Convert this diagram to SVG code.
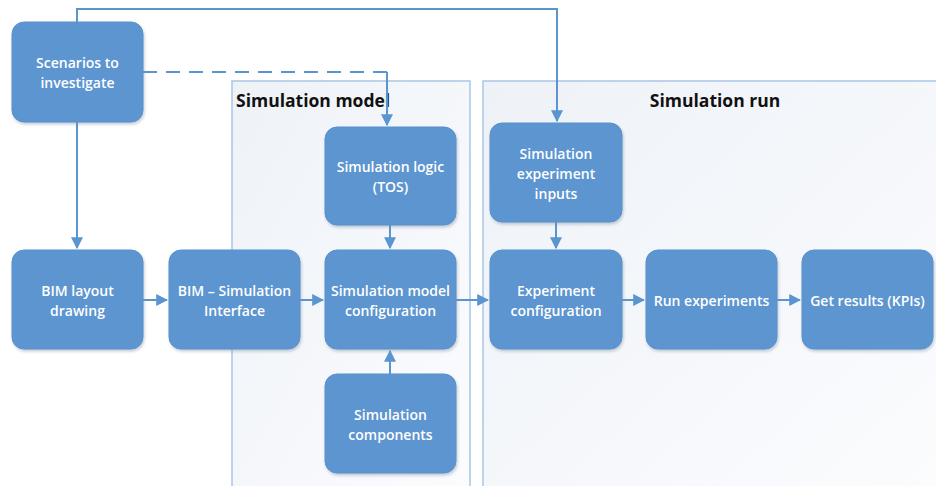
<svg xmlns="http://www.w3.org/2000/svg" width="936" height="486" viewBox="0 0 936 486">
  <defs>
    <linearGradient id="panelFill" x1="0" y1="0" x2="1" y2="1">
      <stop offset="0" stop-color="#eef2f7"/>
      <stop offset="1" stop-color="#fbfcfe"/>
    </linearGradient>
    <filter id="shadow" x="-10%" y="-10%" width="125%" height="130%">
      <feDropShadow dx="1" dy="2" stdDeviation="1.5" flood-color="#7a8ea6" flood-opacity="0.45"/>
    </filter>
    <marker id="arrow" viewBox="0 0 10 10" refX="9" refY="5" markerWidth="6" markerHeight="6" orient="auto-start-reverse" markerUnits="strokeWidth">
      <path d="M0,0 L10,5 L0,10 z" fill="#5b95d0"/>
    </marker>
  </defs>
  <style>
    .panel { fill: url(#panelFill); stroke: #a9c6e6; stroke-width: 1.5; }
    .panel-title { font-family: "Open Sans", "Liberation Sans", sans-serif; font-weight: 700; font-size: 17.5px; fill: #111111; }
    .box { fill: #5b95d0; stroke: #5a92cc; stroke-width: 1; filter: url(#shadow); }
    .label { font-family: "Open Sans", "Liberation Sans", sans-serif; font-weight: 600; font-size: 14px; fill: #ffffff; text-anchor: middle; dominant-baseline: central; }
    .conn { fill: none; stroke: #5b95d0; stroke-width: 2; }
    .dashed { stroke-dasharray: 14 9; }
  </style>

  <rect width="936" height="486" fill="#ffffff"/>

  <!-- Panels -->
  <g id="panel-model">
    <rect class="panel" x="232" y="81" width="238" height="410"/>
    <text class="panel-title" x="236" y="107">Simulation model</text>
  </g>
  <g id="panel-run">
    <rect class="panel" x="483" y="81" width="460" height="410"/>
    <text class="panel-title" x="715" y="107" text-anchor="middle">Simulation run</text>
  </g>

  <!-- Connectors -->
  <g id="connectors">
    <path class="conn" d="M77,22 V9 H557 V121" marker-end="url(#arrow)"/>
    <path class="conn dashed" d="M143,72 H387"/>
    <path class="conn" d="M387,72 V125" marker-end="url(#arrow)"/>
    <path class="conn" d="M77,122 V248" marker-end="url(#arrow)"/>
    <path class="conn" d="M143,300 H167" marker-end="url(#arrow)"/>
    <path class="conn" d="M300,300 H323" marker-end="url(#arrow)"/>
    <path class="conn" d="M390,225 V248" marker-end="url(#arrow)"/>
    <path class="conn" d="M390,374 V351" marker-end="url(#arrow)"/>
    <path class="conn" d="M456,300 H488" marker-end="url(#arrow)"/>
    <path class="conn" d="M556,222 V248" marker-end="url(#arrow)"/>
    <path class="conn" d="M622,300 H644" marker-end="url(#arrow)"/>
    <path class="conn" d="M777,300 H800" marker-end="url(#arrow)"/>
  </g>

  <!-- Nodes -->
  <g id="scenarios">
    <rect class="box" x="12" y="22" width="131" height="100" rx="12"/>
    <text class="label" x="77.5" y="62">Scenarios to</text>
    <text class="label" x="77.5" y="82">investigate</text>
  </g>
  <g id="sim-logic">
    <rect class="box" x="325" y="127" width="131" height="98" rx="12"/>
    <text class="label" x="390.5" y="166">Simulation logic</text>
    <text class="label" x="390.5" y="186">(TOS)</text>
  </g>
  <g id="exp-inputs">
    <rect class="box" x="490" y="123" width="132" height="99" rx="12"/>
    <text class="label" x="556" y="153">Simulation</text>
    <text class="label" x="556" y="173">experiment</text>
    <text class="label" x="556" y="193">inputs</text>
  </g>
  <g id="bim-layout">
    <rect class="box" x="12" y="250" width="131" height="99" rx="12"/>
    <text class="label" x="77.5" y="290">BIM layout</text>
    <text class="label" x="77.5" y="310">drawing</text>
  </g>
  <g id="bim-interface">
    <rect class="box" x="169" y="250" width="131" height="99" rx="12"/>
    <text class="label" x="234.5" y="290">BIM – Simulation</text>
    <text class="label" x="234.5" y="310">Interface</text>
  </g>
  <g id="model-config">
    <rect class="box" x="325" y="250" width="131" height="99" rx="12"/>
    <text class="label" x="390.5" y="290">Simulation model</text>
    <text class="label" x="390.5" y="310">configuration</text>
  </g>
  <g id="sim-components">
    <rect class="box" x="325" y="374" width="131" height="99" rx="12"/>
    <text class="label" x="390.5" y="414">Simulation</text>
    <text class="label" x="390.5" y="434">components</text>
  </g>
  <g id="exp-config">
    <rect class="box" x="490" y="250" width="132" height="99" rx="12"/>
    <text class="label" x="556" y="290">Experiment</text>
    <text class="label" x="556" y="310">configuration</text>
  </g>
  <g id="run-experiments">
    <rect class="box" x="646" y="250" width="131" height="99" rx="12"/>
    <text class="label" x="711.5" y="300">Run experiments</text>
  </g>
  <g id="get-results">
    <rect class="box" x="802" y="250" width="131" height="99" rx="12"/>
    <text class="label" x="867.5" y="300">Get results (KPIs)</text>
  </g>
</svg>
